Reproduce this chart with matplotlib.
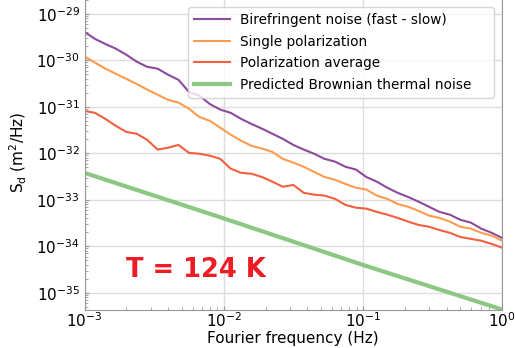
import numpy as np
import matplotlib
matplotlib.use('Agg')
import matplotlib.pyplot as plt

# frequency grid (Hz), 41 log-spaced samples from 1 mHz to 1 Hz
freq = np.logspace(-3, 0, 41)

# log10 of S_d (m^2/Hz)
birefringent = [-29.39, -29.54, -29.65, -29.75, -29.88, -30.03, -30.14, -30.18, -30.31, -30.42,
                -30.68, -30.76, -30.94, -31.06, -31.13, -31.26, -31.37, -31.47, -31.58, -31.69,
                -31.82, -31.92, -32.01, -32.12, -32.18, -32.29, -32.35, -32.51, -32.61, -32.74,
                -32.85, -32.94, -33.04, -33.15, -33.26, -33.32, -33.43, -33.49, -33.62, -33.71,
                -33.82]
single_pol = [-29.92, -30.05, -30.18, -30.29, -30.40, -30.51, -30.63, -30.74, -30.85, -30.91,
              -31.04, -31.22, -31.30, -31.45, -31.60, -31.73, -31.84, -31.90, -31.97, -32.12,
              -32.20, -32.29, -32.40, -32.51, -32.57, -32.66, -32.74, -32.78, -32.91, -32.98,
              -33.09, -33.15, -33.24, -33.34, -33.39, -33.47, -33.58, -33.62, -33.71, -33.77,
              -33.88]
pol_average = [-31.09, -31.13, -31.26, -31.41, -31.54, -31.58, -31.71, -31.92, -31.88, -31.82,
               -31.99, -32.01, -32.05, -32.12, -32.33, -32.42, -32.44, -32.51, -32.61, -32.72,
               -32.68, -32.85, -32.89, -32.91, -32.98, -33.11, -33.17, -33.19, -33.26, -33.32,
               -33.39, -33.47, -33.54, -33.58, -33.65, -33.71, -33.80, -33.84, -33.88, -33.95,
               -34.03]

brownian_freq = [1e-3, 1e-2, 1e-1, 1e0]
brownian = [-32.42, -33.40, -34.40, -35.36]

fig = plt.figure(figsize=(5.16, 3.48), dpi=100)
ax = fig.add_axes([0.1638, 0.1092, 0.8092, 0.9046])

ax.loglog(freq, 10**np.array(birefringent), color='#8c4a9c', lw=1.5,
          label='Birefringent noise (fast - slow)')
ax.loglog(freq, 10**np.array(single_pol), color='#fd9b4f', lw=1.5,
          label='Single polarization')
ax.loglog(freq, 10**np.array(pol_average), color='#f2603f', lw=1.5,
          label='Polarization average')
ax.loglog(brownian_freq, 10**np.array(brownian), color='#8cc784', lw=3,
          label='Predicted Brownian thermal noise')

ax.set_xlim(1e-3, 1e0)
ax.set_ylim(10**-35.37, 10**-28.6)
ax.grid(True, which='major', color='#dddddd', lw=1)
ax.set_axisbelow(True)
for s in ax.spines.values():
    s.set_color('#999999')
ax.tick_params(which='both', direction='in', color='#999999', labelsize=11)
ax.tick_params(which='major', length=3)
ax.tick_params(which='minor', length=2)
ax.tick_params(axis='x', pad=1)

ax.set_xlabel('Fourier frequency (Hz)', fontsize=11, labelpad=1)
ax.set_ylabel(r'S$_\mathrm{d}$ (m$^2$/Hz)', fontsize=11, labelpad=5)

ax.legend(loc='upper left', fontsize=9.8, bbox_to_anchor=(0.248, 0.5, 0.733, 0.4625),
          mode='expand', handlelength=2.6, handletextpad=0.8, labelspacing=0.55,
          borderpad=0.45, borderaxespad=0)

ax.text(0.099, 0.127, 'T = 124 K', transform=ax.transAxes, color='#ee1c25',
        fontsize=18.5, fontweight='bold', va='center', ha='left')

fig.savefig('out.png', dpi=100)
